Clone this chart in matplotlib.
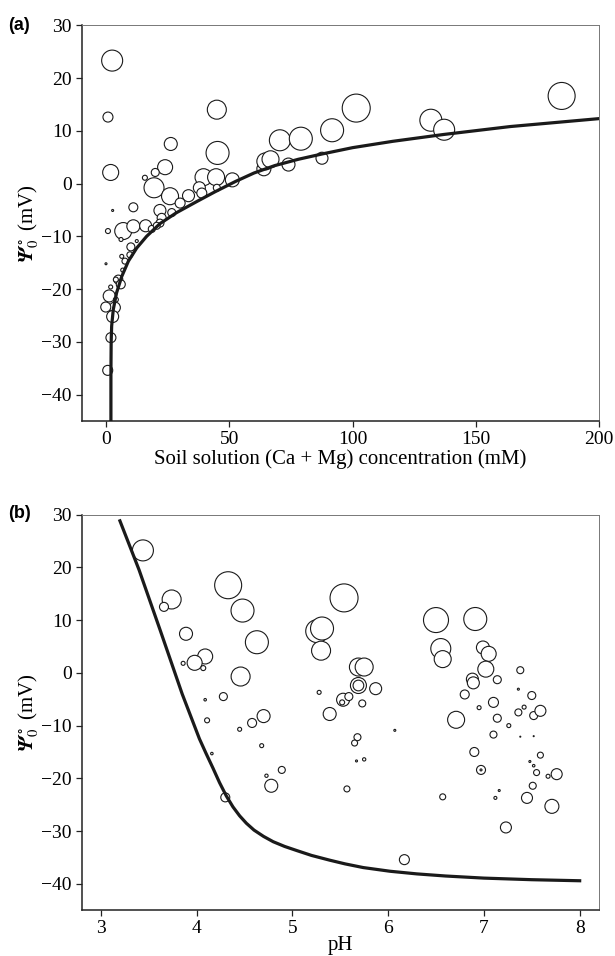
import matplotlib
matplotlib.use("Agg")
import matplotlib.pyplot as plt
import numpy as np

# ---------------- Panel (a) data ----------------
conc_a = [2.4, 0.7, 1.8, 2.6, 11.0, 0.7, 6.9, 11.0, 16.0, 18.5, 6.0, 12.4, 10.0, 9.6,
          6.3, 7.6, -0.1, 6.7, 4.9, 5.9, 3.9, 1.8, 1.2, 3.9, 3.5, -0.2, 2.6, 1.9, 0.6,
          44.9, 45.2, 26.2, 23.9, 19.9, 15.7, 19.4, 25.9, 39.5, 44.6, 51.2, 37.8, 38.8,
          33.4, 30.0, 21.8, 22.5, 21.8, 20.5, 26.6, 44.9, 64.0, 64.6, 66.7, 74.0, 70.5,
          79.0, 87.6, 91.7, 101.5, 131.8, 137.2, 184.9]
psi_a = [23.3, 12.6, 2.1, -5.1, -4.5, -9.0, -9.0, -8.1, -8.0, -8.6, -10.6, -10.9, -12.0,
         -13.5, -13.8, -14.7, -15.2, -16.4, -18.2, -19.1, -18.2, -19.6, -21.3, -22.0,
         -23.5, -23.4, -25.2, -29.2, -35.4, 14.0, 5.8, 7.5, 3.1, 2.1, 1.1, -0.8, -2.4,
         1.2, 1.2, 0.7, -0.8, -1.8, -2.3, -3.7, -5.1, -6.5, -7.5, -8.0, -5.5, -0.8, 2.8,
         4.2, 4.6, 3.6, 8.2, 8.5, 4.8, 10.1, 14.3, 12.0, 10.2, 16.6]
bubble_a = [21, 10, 16, 2, 9, 5, 17, 13, 12, 7, 4, 3, 8, 6, 4, 6, 2, 4, 9, 9, 5, 4, 12, 5,
            11, 10, 12, 10, 10, 19, 23, 13, 15, 8, 5, 20, 17, 17, 17, 14, 12, 10, 12, 10,
            12, 9, 8, 7, 8, 7, 14, 17, 17, 13, 21, 23, 12, 23, 28, 22, 21, 27]

# fitted curve (a)
fit_conc = [1.9, 1.9, 2.0, 2.2, 2.85, 4.2, 6.3, 9.0, 12.4, 16.4, 21.8, 28.6, 36.8, 44.0,
            52.5, 60.0, 68.4, 78.0, 87.6, 100.0, 116.3, 137.0, 164.0, 200.0]
fit_psi_a = [-45.0, -36.0, -30.0, -27.0, -23.9, -20.7, -17.6, -14.7, -12.2, -10.0, -7.6,
             -5.5, -3.4, -1.6, 0.4, 2.0, 3.4, 4.6, 5.6, 6.8, 8.0, 9.3, 10.8, 12.3]

# ---------------- Panel (b) data ----------------
ph_b = [3.44, 3.74, 3.66, 3.89, 4.09, 3.98, 3.86, 4.07, 4.33, 4.28, 4.09, 4.11, 4.45,
        4.16, 4.30, 4.48, 4.63, 4.46, 4.70, 4.58, 4.68, 4.89, 4.73, 4.78, 5.54, 5.26,
        5.31, 5.30, 5.69, 5.75, 5.69, 5.69, 5.87, 5.28, 5.53, 5.59, 5.52, 5.73, 5.39,
        5.68, 5.65, 5.75, 5.67, 5.57, 6.07, 6.17, 6.57, 6.50, 6.91, 6.55, 6.57, 6.99,
        7.05, 7.02, 7.14, 6.88, 6.89, 6.80, 7.10, 6.95, 6.71, 7.14, 7.10, 7.26, 7.38,
        7.52, 6.90, 6.97, 6.97, 7.59, 7.48, 7.52, 7.55, 7.67, 7.76, 7.51, 7.16, 7.12,
        7.45, 7.71, 7.23, 7.38, 7.36, 7.50, 7.42, 7.36, 7.52, 7.59]
psi_b = [23.2, 13.9, 12.5, 7.4, 3.1, 1.9, 1.8, 0.9, 16.6, -4.5, -5.1, -9.0, -10.7, -15.3,
         -23.6, 11.8, 5.8, -0.7, -8.2, -9.5, -13.8, -18.4, -19.5, -21.4, 14.2, 7.9, 8.4,
         4.2, 1.1, 1.1, -2.4, -2.4, -3.0, -3.7, -5.1, -4.5, -5.6, -5.8, -7.8, -12.2,
         -13.3, -16.4, -16.7, -22.0, -10.9, -35.4, -23.5, 10.0, 10.2, 4.6, 2.6, 4.8, 3.6,
         0.7, -1.3, -1.2, -1.9, -4.1, -5.6, -6.6, -8.9, -8.6, -11.7, -10.0, -12.1, -12.0,
         -15.0, -18.4, -18.4, -15.6, -16.8, -17.6, -18.9, -19.6, -19.2, -21.4, -22.3,
         -23.7, -23.7, -25.3, -29.3, 0.5, -3.1, -4.3, -6.5, -7.5, -8.1, -7.2]
bubble_b = [21, 19, 9, 13, 15, 15, 4, 5, 27, 8, 2.5, 5, 4, 2.5, 9, 23, 23, 19, 13, 9, 4, 7,
            3.3, 13, 28, 23, 23, 19, 18, 18, 16, 10.7, 12, 4, 13, 8, 5, 7, 13, 7, 6, 3.3,
            2, 6, 2, 10, 6, 25, 23, 20, 17, 13, 15, 16, 8, 12, 12, 9, 10, 4, 17, 8, 7, 4,
            1, 1, 9, 9, 2, 6, 2, 2.5, 6, 4, 11, 7, 2, 3, 11, 14, 11, 7, 2, 8, 4, 7, 8, 11]

# fitted curve (b)
fit_ph = [3.20, 3.40, 3.62, 3.85, 4.03, 4.10, 4.17, 4.24, 4.31, 4.38, 4.45, 4.52, 4.60,
          4.70, 4.80, 4.92, 5.05, 5.20, 5.39, 5.55, 5.74, 6.02, 6.30, 6.60, 7.00, 7.50,
          8.00]
fit_psi_b = [28.8, 19.5, 8.1, -4.0, -12.5, -15.3, -18.0, -20.8, -23.3, -25.4, -27.1,
             -28.5, -29.8, -31.0, -32.0, -32.9, -33.7, -34.6, -35.5, -36.2, -36.9, -37.6,
             -38.1, -38.5, -38.9, -39.2, -39.4]

# ---------------- styling ----------------
plt.rcParams['font.family'] = ['Liberation Serif', 'DejaVu Serif']
plt.rcParams['mathtext.fontset'] = 'stix'
TICK_FS = 14
LABEL_FS = 15
YLABEL = r'$\mathbfit{\Psi}_{0}^{\,\circ}$ (mV)'


def px_to_s(d):
    return (np.asarray(d) * 0.72) ** 2


def style_axes(ax):
    for side in ('left', 'bottom'):
        ax.spines[side].set_color('#222222')
        ax.spines[side].set_linewidth(1.1)
    for side in ('top', 'right'):
        ax.spines[side].set_color('#777777')
        ax.spines[side].set_linewidth(0.7)
    ax.tick_params(axis='both', which='both', direction='out', length=4, width=0.9,
                   color='#222222', labelsize=TICK_FS, top=False, right=False, pad=3)
    ax.set_ylim(-45, 30)
    ax.set_yticks([-40, -30, -20, -10, 0, 10, 20, 30])
    ax.set_ylabel(YLABEL, fontsize=LABEL_FS, labelpad=0)


fig = plt.figure(figsize=(6.15, 9.56), dpi=100)
ax1 = fig.add_axes([0.1327, 0.5596, 0.841, 0.414])
ax2 = fig.add_axes([0.1327, 0.0478, 0.841, 0.414])

# panel a
ax1.scatter(conc_a, psi_a, s=px_to_s(bubble_a), facecolors='white', edgecolors='#1a1a1a',
            linewidths=0.8, zorder=2)
ax1.plot(fit_conc, fit_psi_a, color='#1a1a1a', lw=2.3, zorder=3, solid_joinstyle='round')
ax1.set_xlim(-10, 200)
ax1.set_xticks([0, 50, 100, 150, 200])
style_axes(ax1)
ax1.set_xlabel('Soil solution (Ca + Mg) concentration (mM)', fontsize=LABEL_FS, labelpad=1)

# panel b
ax2.scatter(ph_b, psi_b, s=px_to_s(bubble_b), facecolors='white', edgecolors='#1a1a1a',
            linewidths=0.8, zorder=2)
ax2.plot(fit_ph, fit_psi_b, color='#1a1a1a', lw=2.3, zorder=3, solid_joinstyle='round')
ax2.set_xlim(2.8, 8.2)
ax2.set_xticks([3, 4, 5, 6, 7, 8])
style_axes(ax2)
ax2.set_xlabel('pH', fontsize=LABEL_FS, labelpad=-1)

fig.text(8 / 615, 1 - 25 / 956, '(a)', fontsize=13, fontweight='bold',
         family='Liberation Sans', va='center', ha='left')
fig.text(8 / 615, 1 - 514 / 956, '(b)', fontsize=13, fontweight='bold',
         family='Liberation Sans', va='center', ha='left')

fig.savefig('out.png', dpi=100)
